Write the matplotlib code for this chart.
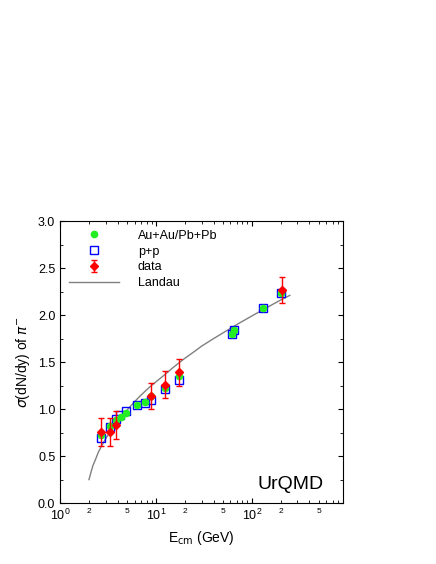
import numpy as np
import matplotlib.pyplot as plt
from matplotlib.ticker import FixedLocator, FixedFormatter, MultipleLocator

plt.rcParams['font.family'] = ['Liberation Sans', 'DejaVu Sans']

## Au+Au / Pb+Pb (UrQMD)
e_aa = [2.7, 3.3, 3.8, 4.3, 4.9, 6.3, 7.7, 8.8, 12.3, 17.3, 62.4, 66.0, 130., 200.]
y_aa = [0.72, 0.82, 0.88, 0.92, 0.96, 1.04, 1.08, 1.14, 1.22, 1.35, 1.80, 1.84, 2.08, 2.23]
## p+p (UrQMD)
e_pp = [2.7, 3.3, 3.8, 4.2, 4.9, 6.3, 7.7, 8.8, 12.3, 17.3, 62.4, 66.0, 130., 200.]
y_pp = [0.69, 0.81, 0.89, 0.94, 0.98, 1.04, 1.06, 1.10, 1.21, 1.31, 1.80, 1.84, 2.08, 2.24]
## data
e_dat = [2.7, 3.3, 3.8, 8.8, 12.3, 17.3, 205.]
y_dat = [0.76, 0.76, 0.83, 1.14, 1.26, 1.39, 2.27]
err_dat = [0.15, 0.15, 0.15, 0.14, 0.14, 0.14, 0.14]
## Landau
e_lan = [2.0, 2.1, 2.2, 2.35, 2.5, 2.75, 3.0, 3.5, 4.0, 5.0, 6.0, 7.0, 8.5, 10., 12.5, 15., 20., 25., 30., 40., 50., 70., 100., 150., 200., 250.]
y_lan = [0.25, 0.33, 0.40, 0.47, 0.54, 0.62, 0.69, 0.79, 0.87, 0.99, 1.08, 1.15, 1.23, 1.29, 1.37, 1.44, 1.54, 1.61, 1.67, 1.75, 1.81, 1.90, 1.99, 2.09, 2.16, 2.21]

fig = plt.figure(figsize=(4.36, 5.64), dpi=100)
ax = fig.add_axes([0.138, 0.108, 0.649, 0.500])

ax.plot(e_lan, y_lan, color='gray', lw=1, label='Landau')
ax.plot(e_pp, y_pp, 's', mfc='none', mec='blue', mew=1, ms=6, label='p+p', zorder=3)
ax.plot(e_aa, y_aa, 'o', color='#22ee22', ms=4.5, label='Au+Au/Pb+Pb', zorder=4)
ax.errorbar(e_dat, y_dat, yerr=err_dat, fmt='D', color='red', ms=4, capsize=2,
            elinewidth=1, label='data', zorder=5)

ax.set_xscale('log')
ax.set_xlim(1, 900)
ax.set_ylim(0, 3.0)
ax.yaxis.set_major_locator(MultipleLocator(0.5))
ax.yaxis.set_minor_locator(MultipleLocator(0.25))
mins = [m * d for d in (1, 10, 100) for m in range(2, 10)]
lab = {2: '2', 5: '5', 20: '2', 50: '5', 200: '2', 500: '5'}
ax.xaxis.set_minor_locator(FixedLocator(mins))
ax.xaxis.set_minor_formatter(FixedFormatter([lab.get(m, '') for m in mins]))
ax.tick_params(which='both', direction='in', top=True, right=True)
ax.tick_params(which='minor', labelsize=6)
ax.tick_params(which='major', labelsize=9)
ax.set_xlabel(r'E$_{\rm cm}$ (GeV)', fontsize=10)
ax.set_ylabel(r'$\sigma$(dN/dy) of $\pi^{-}$', fontsize=10)
ax.text(0.93, 0.05, 'UrQMD', transform=ax.transAxes, ha='right', fontsize=14)

h, l = ax.get_legend_handles_labels()
order = [2, 1, 3, 0]
ax.legend([h[i] for i in order], [l[i] for i in order], loc='upper left', frameon=False,
          fontsize=9, handlelength=4, handletextpad=1.5, labelspacing=0.3, borderaxespad=0.3)

fig.savefig('out.png', dpi=100)
